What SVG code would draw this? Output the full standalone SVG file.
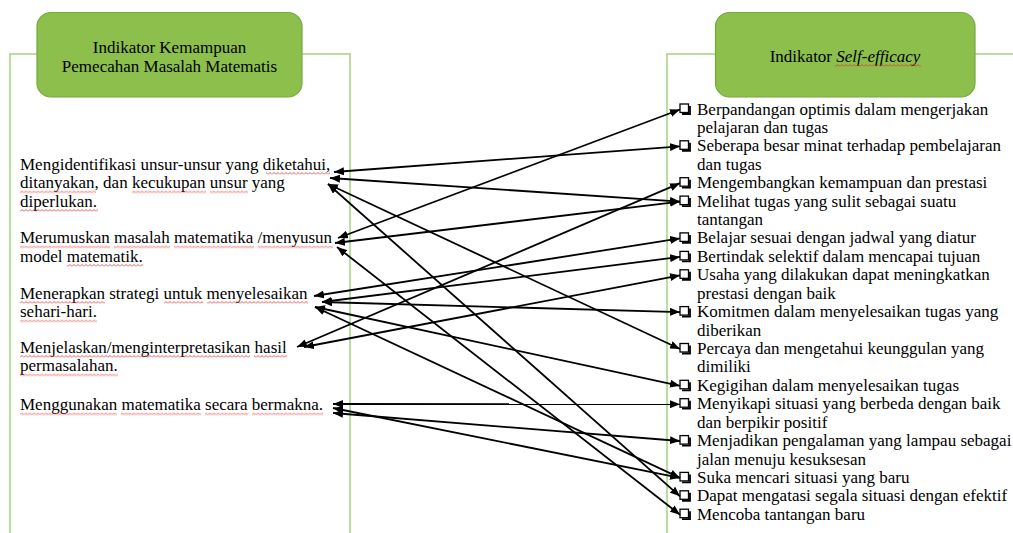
<svg xmlns="http://www.w3.org/2000/svg" width="1013" height="533" viewBox="0 0 1013 533">
<style>
.t{font-family:"Liberation Serif","Times New Roman",serif;font-size:17px;fill:#000}
.hd{font-family:"Liberation Serif","Times New Roman",serif;font-size:17px;fill:#000;text-anchor:middle}
.box{fill:#8cbf4c;stroke:#76a93c;stroke-width:1.2}
.br{fill:none;stroke:#a6d27f;stroke-width:1.5}
.cn{fill:none;stroke:#000;stroke-width:1.8;marker-start:url(#ah);marker-end:url(#ah)}
.sq{fill:url(#sq)}
</style>
<defs>
<marker id="ah" viewBox="0 0 10 8" refX="10" refY="4" markerWidth="10" markerHeight="8" markerUnits="userSpaceOnUse" orient="auto-start-reverse">
<path d="M0,0 L10,4 L0,8 z" fill="#000"/>
</marker>
<pattern id="sq" patternUnits="userSpaceOnUse" width="4" height="3">
<path d="M0,2.5 L2,0.5 L4,2.5" fill="none" stroke="#e0302a" stroke-width="0.8"/>
</pattern>
<g id="cb">
<rect x="0" y="-0.5" width="8.5" height="8.5" fill="#fff" stroke="#000" stroke-width="1.3"/>
<path d="M2,9.5 H10 V1.5" fill="none" stroke="#000" stroke-width="1.8"/>
</g>
</defs>
<rect width="1013" height="533" fill="#fff"/>

<g id="brackets">
<path class="br" d="M10,533 V54 H40 M300,54 H350 V533"/>
<path class="br" d="M667,533 V54 H720 M972,54 H1013"/>
</g>

<g id="header-left">
<rect class="box" x="37" y="12.5" width="265" height="84.5" rx="14"/>
<text class="hd" x="169.5" y="52.5">Indikator Kemampuan</text>
<text class="hd" x="169.5" y="71.5">Pemecahan Masalah Matematis</text>
</g>

<g id="header-right">
<rect class="box" x="715.5" y="12.5" width="259.5" height="84.5" rx="14"/>
<text class="hd" x="845" y="62">Indikator <tspan font-style="italic">Self-efficacy</tspan></text>
<rect class="sq" transform="translate(0,64)" x="835" y="0" width="86" height="3"/>
</g>

<g id="left-1">
<text class="t" x="20" y="169.5">Mengidentifikasi unsur-unsur yang diketahui,</text>
<text class="t" x="20" y="188">ditanyakan, dan kecukupan unsur yang</text>
<text class="t" x="20" y="206.5">diperlukan.</text>
<rect class="sq" transform="translate(0,172)" x="266" y="0" width="64" height="3"/>
<rect class="sq" transform="translate(0,190.5)" x="20" y="0" width="76" height="3"/>
<rect class="sq" transform="translate(0,190.5)" x="132" y="0" width="74" height="3"/>
<rect class="sq" transform="translate(0,190.5)" x="210" y="0" width="38" height="3"/>
<rect class="sq" transform="translate(0,209)" x="20" y="0" width="78" height="3"/>
</g>

<g id="left-2">
<text class="t" x="20" y="243">Merumuskan masalah matematika /menyusun</text>
<text class="t" x="20" y="261.5">model matematik.</text>
<rect class="sq" transform="translate(0,245.5)" x="20" y="0" width="90" height="3"/>
<rect class="sq" transform="translate(0,245.5)" x="114" y="0" width="56" height="3"/>
<rect class="sq" transform="translate(0,245.5)" x="174" y="0" width="80" height="3"/>
<rect class="sq" transform="translate(0,245.5)" x="258" y="0" width="75" height="3"/>
<rect class="sq" transform="translate(0,264)" x="67" y="0" width="76" height="3"/>
</g>

<g id="left-3">
<text class="t" x="20" y="298.5">Menerapkan strategi untuk menyelesaikan</text>
<text class="t" x="20" y="317">sehari-hari.</text>
<rect class="sq" transform="translate(0,301)" x="20" y="0" width="85" height="3"/>
<rect class="sq" transform="translate(0,301)" x="164" y="0" width="39" height="3"/>
<rect class="sq" transform="translate(0,301)" x="207" y="0" width="101" height="3"/>
<rect class="sq" transform="translate(0,319.5)" x="20" y="0" width="77" height="3"/>
</g>

<g id="left-4">
<text class="t" x="20" y="352.5">Menjelaskan/menginterpretasikan hasil</text>
<text class="t" x="20" y="371">permasalahan.</text>
<rect class="sq" transform="translate(0,355)" x="20" y="0" width="230" height="3"/>
<rect class="sq" transform="translate(0,355)" x="254" y="0" width="33" height="3"/>
<rect class="sq" transform="translate(0,373.5)" x="20" y="0" width="98" height="3"/>
</g>

<g id="left-5">
<text class="t" x="20" y="410">Menggunakan matematika secara bermakna.</text>
<rect class="sq" transform="translate(0,412.5)" x="20" y="0" width="97" height="3"/>
<rect class="sq" transform="translate(0,412.5)" x="121" y="0" width="80" height="3"/>
<rect class="sq" transform="translate(0,412.5)" x="205" y="0" width="43" height="3"/>
<rect class="sq" transform="translate(0,412.5)" x="252" y="0" width="71" height="3"/>
</g>

<g id="right-1"><use href="#cb" x="680" y="104.5"/><text class="t" x="697" y="114.5">Berpandangan optimis dalam mengerjakan</text><text class="t" x="697" y="132.9">pelajaran dan tugas</text></g>
<g id="right-2"><use href="#cb" x="680" y="141.3"/><text class="t" x="697" y="151.3">Seberapa besar minat terhadap pembelajaran</text><text class="t" x="697" y="169.8">dan tugas</text></g>
<g id="right-3"><use href="#cb" x="680" y="178.2"/><text class="t" x="697" y="188.2">Mengembangkan kemampuan dan prestasi</text></g>
<g id="right-4"><use href="#cb" x="680" y="196.6"/><text class="t" x="697" y="206.6">Melihat tugas yang sulit sebagai suatu</text><text class="t" x="697" y="225">tantangan</text></g>
<g id="right-5"><use href="#cb" x="680" y="233.4"/><text class="t" x="697" y="243.4">Belajar sesuai dengan jadwal yang diatur</text></g>
<g id="right-6"><use href="#cb" x="680" y="251.9"/><text class="t" x="697" y="261.9">Bertindak selektif dalam mencapai tujuan</text></g>
<g id="right-7"><use href="#cb" x="680" y="270.3"/><text class="t" x="697" y="280.3">Usaha yang dilakukan dapat meningkatkan</text><text class="t" x="697" y="298.7">prestasi dengan baik</text></g>
<g id="right-8"><use href="#cb" x="680" y="307.1"/><text class="t" x="697" y="317.1">Komitmen dalam menyelesaikan tugas yang</text><text class="t" x="697" y="335.5">diberikan</text></g>
<g id="right-9"><use href="#cb" x="680" y="344"/><text class="t" x="697" y="354">Percaya dan mengetahui keunggulan yang</text><text class="t" x="697" y="372.4">dimiliki</text></g>
<g id="right-10"><use href="#cb" x="680" y="380.8"/><text class="t" x="697" y="390.8">Kegigihan dalam menyelesaikan tugas</text></g>
<g id="right-11"><use href="#cb" x="680" y="399.2"/><text class="t" x="697" y="409.2">Menyikapi situasi yang berbeda dengan baik</text><text class="t" x="697" y="427.6">dan berpikir positif</text></g>
<g id="right-12"><use href="#cb" x="680" y="436.1"/><text class="t" x="697" y="446.1">Menjadikan pengalaman yang lampau sebagai</text><text class="t" x="697" y="464.5">jalan menuju kesuksesan</text></g>
<g id="right-13"><use href="#cb" x="680" y="472.9"/><text class="t" x="697" y="482.9">Suka mencari situasi yang baru</text></g>
<g id="right-14"><use href="#cb" x="680" y="491.3"/><text class="t" x="697" y="501.3">Dapat mengatasi segala situasi dengan efektif</text></g>
<g id="right-15"><use href="#cb" x="680" y="509.7"/><text class="t" x="697" y="519.7">Mencoba tantangan baru</text></g>

<g id="connectors">
<line class="cn" x1="334" y1="172" x2="680" y2="146.3"/>
<line class="cn" x1="330" y1="178" x2="680" y2="201.6"/>
<line class="cn" x1="328" y1="184" x2="680" y2="349"/>
<line class="cn" x1="328" y1="184" x2="680" y2="496.3"/>
<line class="cn" x1="338" y1="238" x2="680" y2="109.5"/>
<line class="cn" x1="335" y1="243" x2="680" y2="201.6"/>
<line class="cn" x1="337" y1="247" x2="680" y2="514.7"/>
<line class="cn" x1="314" y1="296" x2="680" y2="238.4"/>
<line class="cn" x1="322" y1="302" x2="680" y2="256.9"/>
<line class="cn" x1="322" y1="302" x2="680" y2="312.1"/>
<line class="cn" x1="315" y1="307" x2="680" y2="385.8"/>
<line class="cn" x1="315" y1="307" x2="680" y2="477.9"/>
<line class="cn" x1="297" y1="347" x2="680" y2="183.2"/>
<line class="cn" x1="304" y1="347" x2="680" y2="275.3"/>
<line class="cn" x1="333" y1="404" x2="680" y2="404.2"/>
<line class="cn" x1="333" y1="413" x2="680" y2="441"/>
<line class="cn" x1="333" y1="408" x2="680" y2="477.9"/>
</g>
</svg>
